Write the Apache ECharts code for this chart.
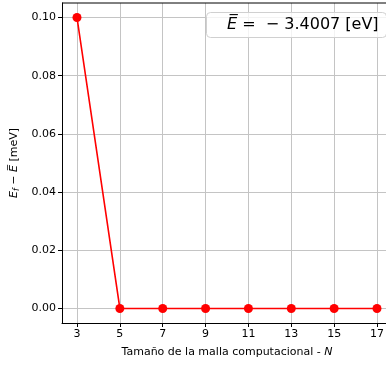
<!DOCTYPE html>
<html>
<head>
<meta charset="utf-8">
<script src="https://cdn.jsdelivr.net/npm/echarts@6/dist/echarts.min.js"></script>
<style>html,body{margin:0;padding:0;background:#fff}</style>
</head>
<body>
<div id="main" style="width:386px;height:366px;"></div>
<script>
// malla N y diferencia de energía [meV]
var sizesN = [3, 5, 7, 9, 11, 13, 15, 17];
var diffMeV = [0.10, 0.0, 0.0, 0.0, 0.0, 0.0, 0.0, 0.0];
var xTicks = [3, 5, 7, 9, 11, 13, 15, 17];
var yTicks = [0, 0.02, 0.04, 0.06, 0.08, 0.10];

var pts = [];
for (var i = 0; i < sizesN.length; i++) pts.push([sizesN[i], diffMeV[i]]);

var chart = echarts.init(document.getElementById('main'));
var font = 'DejaVu Sans';
chart.setOption({
    animation: false,
    textStyle: { fontFamily: font },
    title: {
        text: '{e|E\u0305} =  \u2212 3.4007 [eV]',
        left: 206, top: 12,
        padding: [5, 8, 5, 21],
        borderColor: '#d0d0d0', borderWidth: 1, borderRadius: 4,
        backgroundColor: 'rgba(255,255,255,0.8)',
        textStyle: {
            fontFamily: font, fontSize: 16, fontWeight: 'normal', color: '#000',
            rich: { e: { fontFamily: font, fontSize: 16, fontStyle: 'italic', color: '#000' } }
        }
    },
    grid: { left: 62, top: 3, width: 330, height: 320, outerBoundsMode: 'none', containLabel: false },
    xAxis: {
        type: 'value', min: 2.3, max: 17.7,
        name: 'Tamaño de la malla computacional - {i|N}',
        nameLocation: 'middle', nameGap: 24,
        nameTextStyle: { fontSize: 11, color: '#000', rich: { i: { fontSize: 11, fontStyle: 'italic', color: '#000' } } },
        axisLine: { show: true, onZero: false, lineStyle: { color: '#000', width: 1 } },
        axisTick: { show: true, customValues: xTicks, length: 4, lineStyle: { color: '#000' } },
        axisLabel: { customValues: xTicks, fontSize: 11, color: '#000', margin: 6 },
        splitLine: { show: true, lineStyle: { color: '#c4c4c4', width: 1 } }
    },
    yAxis: {
        type: 'value', min: -0.005, max: 0.105,
        name: '{e|E}{s|f} \u2212 {e|E\u0305} [meV]',
        nameLocation: 'middle', nameGap: 39, nameRotate: 90,
        nameTextStyle: {
            fontSize: 11, color: '#000',
            rich: {
                e: { fontSize: 11, fontStyle: 'italic', color: '#000' },
                s: { fontSize: 8, fontStyle: 'italic', color: '#000', verticalAlign: 'bottom', padding: [4, 0, 0, 0] }
            }
        },
        axisLine: { show: true, lineStyle: { color: '#000', width: 1 } },
        axisTick: { show: true, customValues: yTicks, length: 4, lineStyle: { color: '#000' } },
        axisLabel: { customValues: yTicks, fontSize: 11, color: '#000', margin: 6,
            formatter: function (v) { return v.toFixed(2); } },
        splitLine: { show: true, lineStyle: { color: '#c4c4c4', width: 1 } }
    },
    graphic: [{
        type: 'line', shape: { x1: 62, y1: 3, x2: 392, y2: 3 },
        style: { stroke: '#000', lineWidth: 1 }, z: 10
    }],
    series: [{
        type: 'line', data: pts,
        symbol: 'circle', symbolSize: 9,
        lineStyle: { color: '#ff0000', width: 1.6 },
        itemStyle: { color: '#ff0000' }
    }]
});
</script>
</body>
</html>
